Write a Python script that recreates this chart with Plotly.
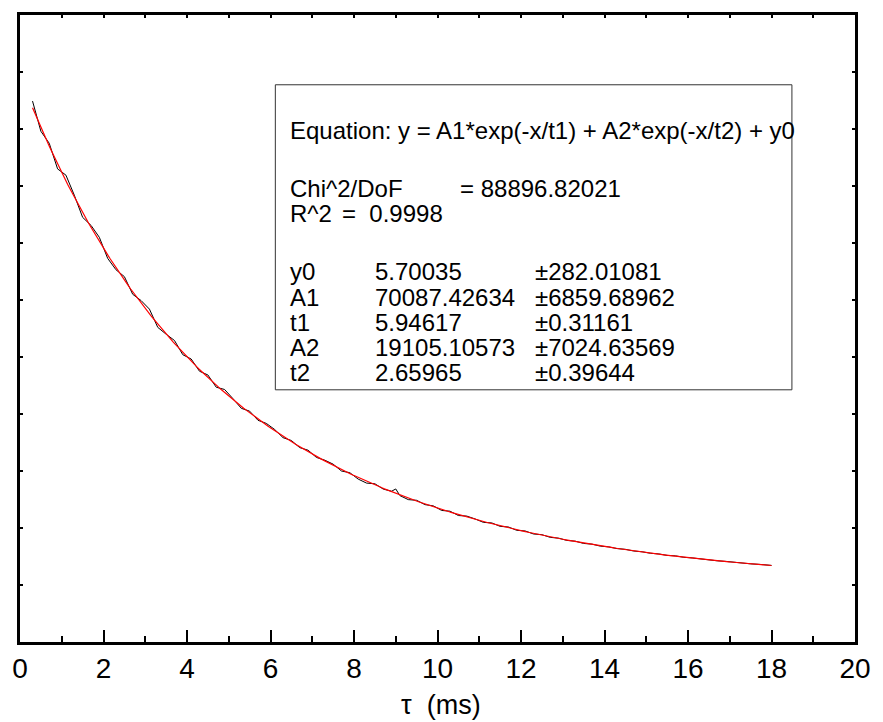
import numpy as np
import plotly.graph_objects as go

# Measured decay (tau in ms, signal in counts)
tau_ms = [0.3, 0.5, 0.7, 0.9, 1.1, 1.3, 1.5, 1.7, 1.9, 2.1, 2.3, 2.5, 2.7, 2.9,
          3.1, 3.3, 3.5, 3.7, 3.9, 4.1, 4.3, 4.5, 4.7, 4.9, 5.1, 5.3, 5.5, 5.7,
          5.9, 6.1, 6.3, 6.5, 6.7, 6.9, 7.1, 7.3, 7.5, 7.7, 7.9, 8.1, 8.3, 8.5,
          8.7, 8.9, 9.0, 9.1, 9.3, 9.5, 9.7, 9.9, 10.1, 10.3, 10.5, 10.7, 10.9,
          11.1, 11.3, 11.5, 11.7, 11.9, 12.1, 12.3, 12.5, 12.7, 12.9, 13.1,
          13.3, 13.5, 13.7, 13.9, 14.1, 14.3, 14.5, 14.7, 14.9, 15.1, 15.3,
          15.5, 15.7, 15.9, 16.1, 16.3, 16.5, 16.7, 16.9, 17.1, 17.3, 17.5,
          17.7, 17.9, 18.0]
signal = [84900, 79600, 77500, 73000, 71900, 68400, 64500, 63100, 61000, 57300,
          55300, 54100, 51000, 49900, 48400, 45200, 44000, 42900, 40400, 39650,
          37500, 36850, 34700, 34300, 32700, 31000, 30500, 28900, 28350, 27280,
          25850, 25350, 24100, 23650, 22380, 21900, 21200, 20000, 19700, 18580,
          17880, 17760, 16830, 16450, 16850, 15680, 14980, 14860, 14100, 13880,
          13080, 12950, 12190, 12090, 11590, 10990, 10890, 10290, 10170, 9590,
          9480, 8950, 8830, 8360, 8220, 7820, 7690, 7290, 7170, 6820, 6690,
          6390, 6260, 5960, 5830, 5570, 5450, 5190, 5110, 4860, 4750, 4545,
          4450, 4245, 4150, 3965, 3880, 3710, 3625, 3465, 3435]

# Fitted parameters of y = A1*exp(-x/t1) + A2*exp(-x/t2) + y0
y0, A1, t1, A2, t2 = 5.70035, 70087.42634, 5.94617, 19105.10573, 2.65965
chi2_dof = "88896.82021"
r2 = "0.9998"
param_names = ["y0", "A1", "t1", "A2", "t2"]
param_values = ["5.70035", "70087.42634", "5.94617", "19105.10573", "2.65965"]
param_errors = ["±282.01081", "±6859.68962", "±0.31161", "±7024.63569", "±0.39644"]

x_ticks = list(range(0, 21, 2))

xf = np.linspace(tau_ms[0], tau_ms[-1], 400)
yf = A1 * np.exp(-xf / t1) + A2 * np.exp(-xf / t2) + y0

W, H = 883, 722
ML, MR, MT, MB = 18, 18, 13, 80
PW, PH = W - ML - MR, H - MT - MB
FONT = "Arial, Liberation Sans, sans-serif"


def px(x):
    return (x - ML) / PW


def py(y):
    return (H - MB - y) / PH


fig = go.Figure()
fig.add_trace(go.Scatter(x=tau_ms, y=signal, mode="lines",
                         line=dict(color="black", width=1), showlegend=False))
fig.add_trace(go.Scatter(x=xf, y=yf, mode="lines",
                         line=dict(color="#ff0000", width=1.2), showlegend=False))
# invisible trace to carry the top axis
fig.add_trace(go.Scatter(x=[0, 20], y=[0, 0], xaxis="x2", mode="markers",
                         marker=dict(opacity=0), showlegend=False, hoverinfo="skip"))

fig.update_layout(
    width=W, height=H,
    margin=dict(l=ML, r=MR, t=MT, b=MB),
    paper_bgcolor="white", plot_bgcolor="white",
    font=dict(family=FONT, color="black"),
    xaxis=dict(range=[0, 20], tickvals=x_ticks, ticks="inside", ticklen=12,
               tickwidth=2, tickcolor="black", showline=True, linewidth=2.5,
               linecolor="black", mirror=True, showgrid=False, zeroline=False,
               tickfont=dict(size=28, family=FONT),
               minor=dict(dtick=1, ticks="inside", ticklen=6, tickwidth=2,
                          tickcolor="black", showgrid=False)),
    xaxis2=dict(range=[0, 20], overlaying="x", side="top", dtick=1,
                ticks="inside", ticklen=3, tickwidth=2, tickcolor="black",
                showticklabels=False, showgrid=False, zeroline=False,
                showline=False),
    yaxis=dict(range=[-10000, 100000], dtick=10000, ticks="inside", ticklen=3,
               tickwidth=2, tickcolor="black", showline=True, linewidth=3,
               linecolor="black", mirror="ticks", showgrid=False,
               zeroline=False, showticklabels=False),
)

# parameter box
fig.add_shape(type="rect", xref="paper", yref="paper",
              x0=px(277), x1=px(801), y0=py(389), y1=py(83),
              line=dict(color="#333333", width=1), fillcolor="rgba(0,0,0,0)")

TS = 24


def label(text, x, y):
    fig.add_annotation(text=text, xref="paper", yref="paper", x=px(x), y=py(y),
                       xanchor="left", yanchor="middle", showarrow=False,
                       font=dict(size=TS, family=FONT, color="black"))


label("Equation: y = A1*exp(-x/t1) + A2*exp(-x/t2) + y0", 290, 129)
label("Chi^2/DoF", 290, 187)
label("= " + chi2_dof, 462, 187)
label("R^2", 290, 212)
label("=  " + r2, 343, 212)
row_y = [270, 296, 321, 347, 372]
for name, val, err, yy in zip(param_names, param_values, param_errors, row_y):
    label(name, 290, yy)
    label(val, 376, yy)
    label(err, 538, yy)

fig.add_annotation(text="τ  (ms)", xref="paper", yref="paper", x=px(445),
                   y=py(705), xanchor="center", yanchor="middle",
                   showarrow=False, font=dict(size=27, family=FONT, color="black"))

fig.write_html("out.html")
